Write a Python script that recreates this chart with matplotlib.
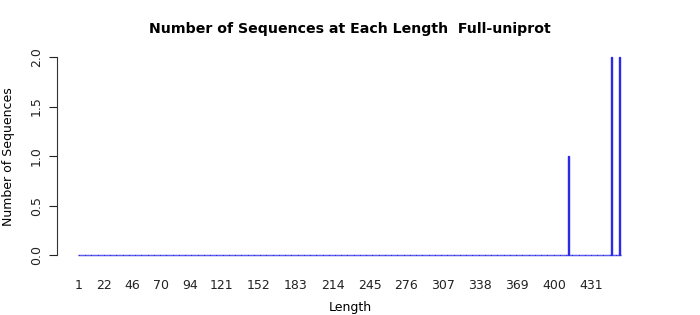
import numpy as np
import matplotlib
matplotlib.use("Agg")
import matplotlib.pyplot as plt

# Data
lengths = list(range(1, 457))                 # every length category on the x axis
nonzero_counts = {412: 1, 448: 2, 455: 2}     # observed sequence counts
counts = [nonzero_counts.get(L, 0) for L in lengths]
tick_labels = [1, 22, 46, 70, 94, 121, 152, 183, 214, 245, 276, 307, 338, 369, 400, 431]
yticks = [0.0, 0.5, 1.0, 1.5, 2.0]

W, H = 700, 315
fig = plt.figure(figsize=(W / 100, H / 100), dpi=100)

px_per = 1.1907
x_left_px, x_right_px = 57, 642
v_left = 1 - (79 - x_left_px) / px_per
v_right = 1 + (x_right_px - 79) / px_per
ax = fig.add_axes([x_left_px / W, 1 - 255 / H, (x_right_px - x_left_px) / W, (255 - 57) / H])
ax.set_xlim(v_left, v_right)
ax.set_ylim(0, 2)

ax.bar(lengths, counts, width=1.0, color="#0000ff", edgecolor="#2a2ae8",
       linewidth=1.0, clip_on=False)

for s in ["top", "right", "bottom"]:
    ax.spines[s].set_visible(False)
ax.spines["left"].set_linewidth(0.8)
ax.spines["left"].set_color("#333333")

ax.set_yticks(yticks)
ax.set_yticklabels([f"{v:.1f}" for v in yticks], rotation=90, va="center", fontsize=9)
ax.tick_params(axis="y", length=6, width=0.8, pad=4, colors="#222222")

ax.set_xticks(tick_labels)
ax.set_xticklabels([str(t) for t in tick_labels], fontsize=9)
ax.tick_params(axis="x", length=0, pad=17, colors="#222222")

fig.text(350 / W, 1 - 29 / H, "Number of Sequences at Each Length  Full-uniprot",
         ha="center", va="center", fontsize=10.2, fontweight="bold")
fig.text(350 / W, 1 - 307 / H, "Length", ha="center", va="center", fontsize=9)
fig.text(9 / W, 1 - 157 / H, "Number of Sequences", ha="center", va="center",
         rotation=90, fontsize=9)

fig.savefig("out.png", dpi=100)
